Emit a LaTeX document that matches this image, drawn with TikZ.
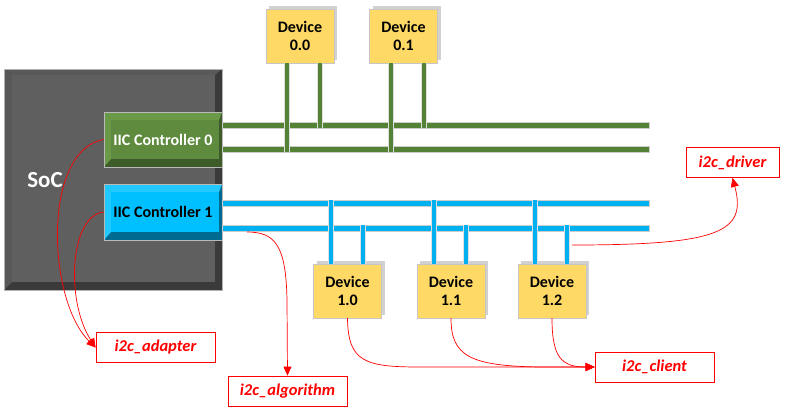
\documentclass[tikz,border=0pt]{standalone}
\usepackage{fontspec}
\setmainfont{Carlito}
\usetikzlibrary{arrows.meta,positioning,shadows}

\definecolor{busgreen}{HTML}{548235}
\definecolor{busblue}{HTML}{00B0F0}
\definecolor{devfill}{HTML}{FFD966}
\definecolor{socface}{HTML}{5F5F5F}
\definecolor{soclite}{HTML}{585858}
\definecolor{socdark}{HTML}{3A3A3A}
\definecolor{grnface}{HTML}{5E8B3E}
\definecolor{grnlite}{HTML}{6A9A48}
\definecolor{grndark}{HTML}{3E5C2A}
\definecolor{bluface}{HTML}{00BFFF}
\definecolor{blulite}{HTML}{22C9FF}
\definecolor{bludark}{HTML}{006A90}

\begin{document}
\begin{tikzpicture}[x=1pt,y=-1pt,
    every node/.style={font=\bfseries\fontsize{16}{18}\selectfont, inner sep=0pt},
    dev/.style={fill=devfill, draw=gray!45, minimum width=68pt, minimum height=54pt, align=center,
        drop shadow={shadow xshift=3pt, shadow yshift=3pt, fill=gray!60, opacity=.6}},
    tag/.style={draw=red, fill=white, line width=.8pt, text=red,
        font=\bfseries\itshape\fontsize{16.5}{18}\selectfont, minimum height=30pt},
    link/.style={draw=red, line width=.7pt, -{Triangle[length=9pt,width=8pt]}},
    gbus/.style={fill=busgreen, draw=gray!40, line width=.5pt},
    bbus/.style={fill=busblue, draw=gray!40, line width=.5pt},
    gleg/.style={draw=busgreen, line width=4pt, preaction={draw=gray!25, line width=6pt}},
    bleg/.style={draw=busblue, line width=4pt, preaction={draw=gray!25, line width=6pt}}]
    \useasboundingbox (0,0) rectangle (807,408);

    % SoC block
    \fill[socdark] (4,69) rectangle (222,290);
    \fill[soclite] (4,69) -- (222,69) -- (215,75) -- (12,75) -- cycle;
    \fill[soclite] (4,69) -- (12,75) -- (12,282) -- (4,290) -- cycle;
    \fill[socface] (12,75) rectangle (215,282);
    \draw[gray!60, line width=.6pt] (4,69) rectangle (222,290);
    \node[text=white, font=\bfseries\fontsize{23}{26}\selectfont] (soc) at (45,180) {SoC};

    % controllers
    \fill[grndark] (104,112) rectangle (222,167);
    \fill[grnlite] (104,112) -- (222,112) -- (219,120) -- (111,120) -- cycle;
    \fill[grnlite] (104,112) -- (111,120) -- (111,159) -- (104,167) -- cycle;
    \fill[grnface] (111,120) rectangle (219,159);
    \draw[gray!55, line width=.6pt] (104,112) rectangle (222,167);
    \node[text=white, minimum width=118pt, minimum height=55pt] (ctrlA) at (163,139.5) {IIC Controller 0};

    \fill[bludark] (104,184) rectangle (222,240);
    \fill[blulite] (104,184) -- (222,184) -- (219,192) -- (111,192) -- cycle;
    \fill[blulite] (104,184) -- (111,192) -- (111,232) -- (104,240) -- cycle;
    \fill[bluface] (111,192) rectangle (219,232);
    \draw[gray!55, line width=.6pt] (104,184) rectangle (222,240);
    \node[text=black, minimum width=118pt, minimum height=56pt] (ctrlB) at (163,212) {IIC Controller 1};

    % buses
    \draw[gbus] (222,122) rectangle (649,128);
    \draw[gbus] (222,146) rectangle (649,152);
    \draw[bbus] (222,200) rectangle (649,206);
    \draw[bbus] (222,225) rectangle (649,231);

    % devices
    \node[dev] (dev00) at (300,36) {Device\\0.0};
    \node[dev] (dev01) at (403.5,36) {Device\\0.1};
    \node[dev] (dev10) at (347.5,291) {Device\\1.0};
    \node[dev] (dev11) at (451,291) {Device\\1.1};
    \node[dev] (dev12) at (552,291) {Device\\1.2};

    \foreach \d in {dev00,dev01}{
        \draw[gleg] ([xshift=-13pt]\d.south) -- ++(0,89);
        \draw[gleg] ([xshift=20pt]\d.south) -- ++(0,65);
    }
    \foreach \d in {dev10,dev11,dev12}{
        \draw[bleg] ([xshift=-17pt]\d.north) -- ++(0,-64);
        \draw[bleg] ([xshift=15pt]\d.north) -- ++(0,-39);
    }

    % labels
    \node[tag, minimum width=119pt] (adapter) at (155.5,347.5) {i2c\_adapter};
    \node[tag, minimum width=119pt] (algo) at (287.5,391) {i2c\_algorithm};
    \node[tag, minimum width=119pt] (client) at (654.5,367) {i2c\_client};
    \node[tag, minimum width=93pt] (driver) at (732.5,162.5) {i2c\_driver};

    \coordinate (algtap) at (247,232);
    \coordinate (drvtap) at (572,245);

    % links
    \draw[link] (ctrlA.west) .. controls (42,150) and (47,300) .. (adapter.west);
    \draw[link] (ctrlB.west) .. controls (70,215) and (65,300) .. (adapter.west);
    \draw[link] (algtap) .. controls (275,232) and (286,245) .. (287,300) -- (algo.north);
    \draw[link] (drvtap) .. controls (720,245) and (747,232) .. (driver.south);
    \draw[link] (dev10.south) .. controls (348,362) and (365,367) .. (420,367) -- (client.west);
    \draw[link] (dev11.south) .. controls (451,356) and (470,366) .. (540,367) -- (client.west);
    \draw[link] (dev12.south) .. controls (552,358) and (562,367) .. (client.west);
\end{tikzpicture}
\end{document}
